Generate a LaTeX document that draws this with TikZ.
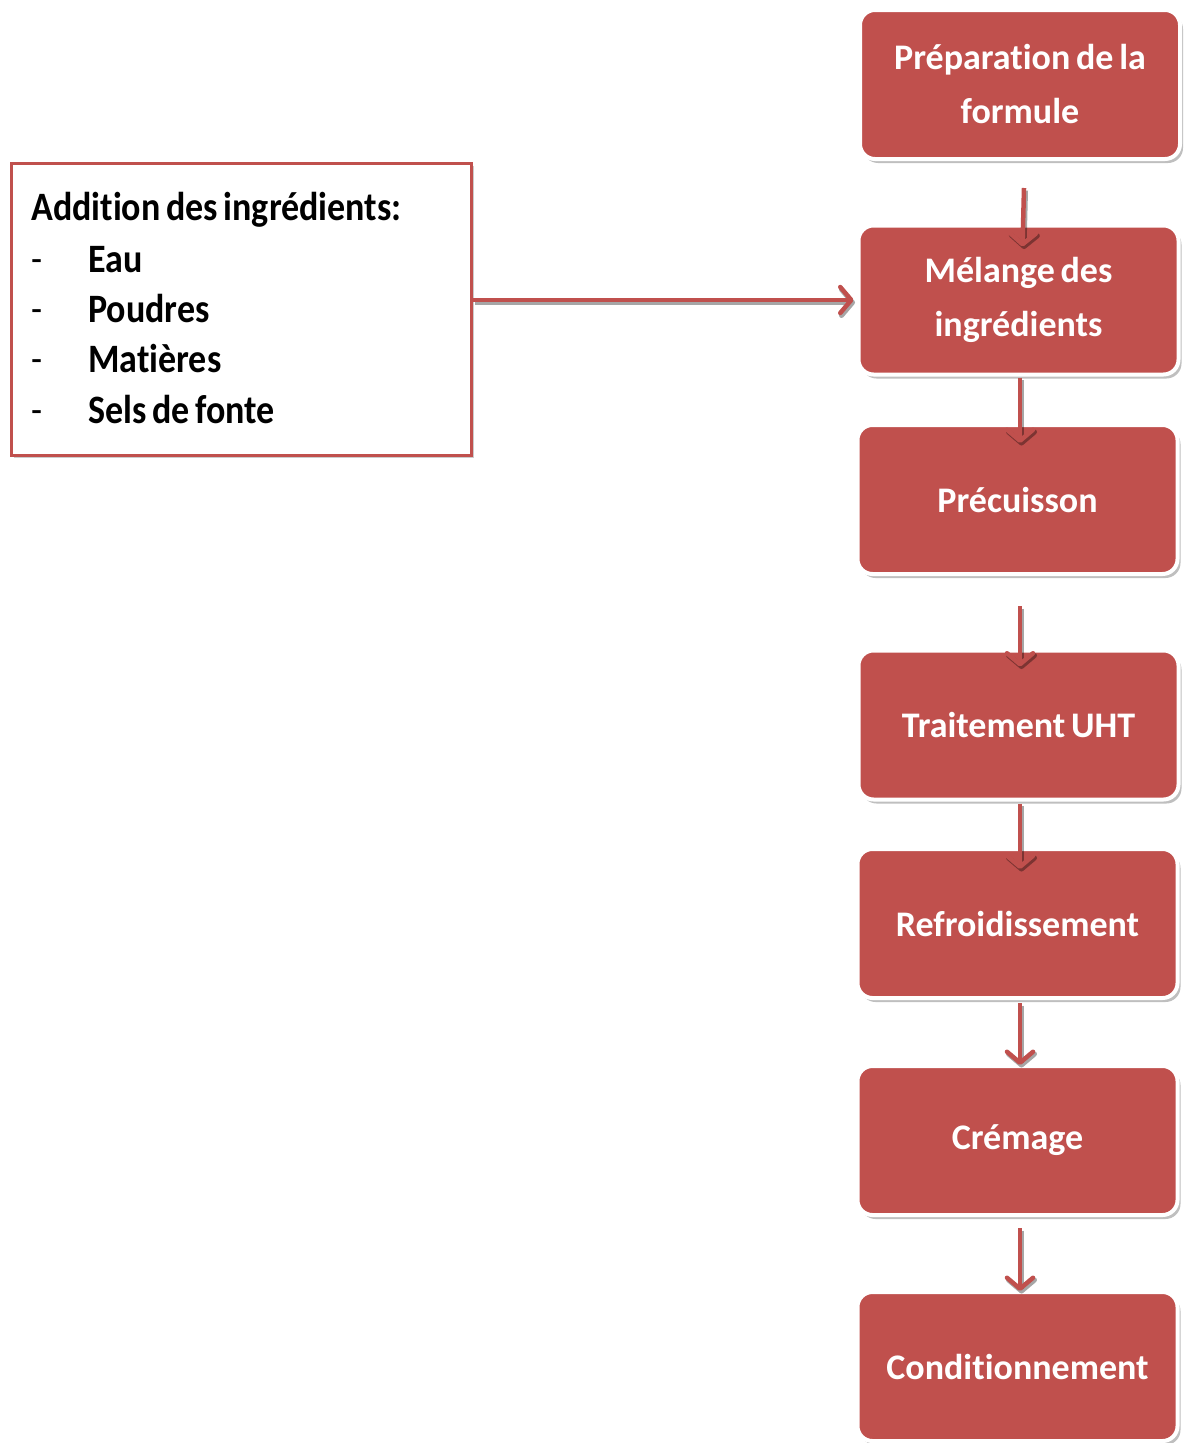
\documentclass[tikz,border=0pt]{standalone}
\usepackage{fontspec}
\setmainfont{Carlito}[Ligatures=NoCommon, WordSpace=0.7]
\usetikzlibrary{arrows.meta,shadows}
\definecolor{acc}{HTML}{C0504D}
\begin{document}
\begin{tikzpicture}[x=1pt,y=-1pt,
  stepbox/.style={rounded corners=15pt, fill=acc, draw=white, line width=4pt,
    minimum width=320pt, minimum height=149pt, inner sep=0pt,
    text width=310pt, align=flush center, text=white,
    font=\fontsize{36}{54}\selectfont\bfseries,
    drop shadow={shadow xshift=3pt, shadow yshift=-4pt, fill=black, opacity=0.25}},
  addbox/.style={draw=acc, line width=3pt, fill=white, minimum width=460pt, minimum height=292pt, inner sep=0pt,
    drop shadow={shadow xshift=2pt, shadow yshift=-2pt, fill=black, opacity=0.2}},
  addtxt/.style={anchor=base west, inner sep=0pt, font=\fontsize{36}{50}\selectfont\bfseries},
  arr/.style={draw=acc, line width=4.5pt, -{Straight Barb[length=11pt,width=26pt,round]},
    preaction={draw=black, opacity=0.35, line width=5pt, transform canvas={xshift=1.5pt,yshift=-2.5pt}}}
]
\useasboundingbox (0,0) rectangle (1184,1443);

\node[addbox] (add) at (241.5,309.5) {};
\node[addtxt] (t0) at (31,220) {\scalebox{1}[1.12]{Addition des ingrédients:}};
\node[addtxt] (t1) at (31,272) {\scalebox{1}[1.12]{\makebox[57pt][l]{\mdseries -}Eau}};
\node[addtxt] (t2) at (31,322) {\scalebox{1}[1.12]{\makebox[57pt][l]{\mdseries -}Poudres}};
\node[addtxt] (t3) at (31,372) {\scalebox{1}[1.12]{\makebox[57pt][l]{\mdseries -}Matières}};
\node[addtxt] (t4) at (31,423) {\scalebox{1}[1.12]{\makebox[57pt][l]{\mdseries -}Sels de fonte}};

\node[stepbox] (b1) at (1020,84.5) {Préparation de la\\formule};
\node[stepbox] (b2) at (1018.5,300) {Mélange des\\ingrédients};
\node[stepbox] (b3) at (1017.5,499.5) {Précuisson};
\node[stepbox] (b4) at (1018.5,725) {Traitement UHT};
\node[stepbox] (b5) at (1017.5,923.5) {Refroidissement};
\node[stepbox] (b6) at (1017.5,1140.5) {Crémage};
\node[stepbox] (b7) at (1017.5,1366.5) {Conditionnement};

\draw[arr] (add.east |- b2.west) -- ([xshift=-3pt]b2.west);
\draw[arr] ([xshift=4pt,yshift=-27pt]b1.south) -- ([xshift=4pt,yshift=-23pt]b2.north);
\draw[arr] ([xshift=1.5pt,yshift=-1pt]b2.south) -- ([xshift=2.5pt,yshift=-20pt]b3.north);
\draw[arr] ([xshift=2.5pt,yshift=-30pt]b3.south) -- ([xshift=1.5pt,yshift=-18pt]b4.north);
\draw[arr] ([xshift=1.5pt,yshift=-2pt]b4.south) -- ([xshift=2.5pt,yshift=-22pt]b5.north);
\draw[arr] ([xshift=2.5pt,yshift=-3pt]b5.south) -- ([xshift=2.5pt,yshift=-1pt]b6.north);
\draw[arr] ([xshift=2.5pt,yshift=-11pt]b6.south) -- ([xshift=2.5pt,yshift=-1pt]b7.north);
\end{tikzpicture}
\end{document}
